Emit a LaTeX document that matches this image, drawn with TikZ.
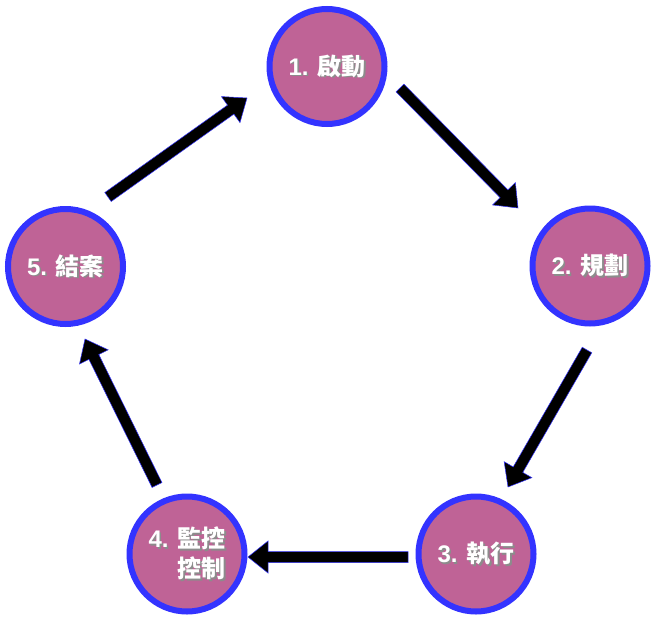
\documentclass[tikz,border=0pt]{standalone}
\usepackage{fontspec}
\setmainfont{Liberation Sans}
\newfontfamily\cjk{Noto Sans CJK TC}
\usetikzlibrary{calc}
\definecolor{nodefill}{RGB}{191,99,150}
\definecolor{nodeborder}{RGB}{51,51,255}
\tikzset{
  phase/.style={circle, minimum size=115pt, line width=6pt, draw=nodeborder, fill=nodefill, inner sep=0pt,
    font=\fontsize{24}{30}\selectfont\bfseries},
  fatarrow/.style={fill=black, draw=nodeborder, line width=0.5pt, line join=miter}
}
\newcommand\shtext[1]{%
  \raisebox{-3.5pt}[\height][\depth]{%
  \rlap{\kern1.6pt\raisebox{-1.6pt}{\color{black!45}\begin{tabular}{@{}r@{}}#1\end{tabular}}}%
  {\color{white}\begin{tabular}{@{}r@{}}#1\end{tabular}}}}
\newcommand\bigarrow[2]{%
  \coordinate (hb) at ($(#2)!20pt!(#1)$);
  \filldraw[fatarrow] ($(#1)!5.5pt!90:(#2)$) -- ($(hb)!5.5pt!-90:(#1)$) -- ($(hb)!16pt!-90:(#1)$) -- (#2)
    -- ($(hb)!16pt!90:(#1)$) -- ($(hb)!5.5pt!90:(#1)$) -- ($(#1)!5.5pt!-90:(#2)$) -- cycle;
}
\begin{document}
\begin{tikzpicture}[x=1pt,y=-1pt]
\useasboundingbox (0,0) rectangle (656,621);
\node[phase] (n1) at (327,66.5) {\shtext{1. {\cjk 啟動}}};
\node[phase] (n2) at (590,266) {\shtext{2. {\cjk 規劃}}};
\node[phase] (n3) at (476,554) {\shtext{3. {\cjk 執行}}};
\node[phase] (n4) at (187,554) {\shtext{4. {\cjk 監控}\\[0pt]{\cjk 控制}}};
\node[phase] (n5) at (65.5,266.5) {\shtext{5. {\cjk 結案}}};
% arrow end points
\coordinate (a12s) at (400,88);
\coordinate (a12e) at (518,208);
\coordinate (a23s) at (587,350);
\coordinate (a23e) at (508,487);
\coordinate (a34s) at (408,557);
\coordinate (a34e) at (248,557);
\coordinate (a45s) at (157,485);
\coordinate (a45e) at (85,339);
\coordinate (a51s) at (108,197);
\coordinate (a51e) at (247,98);
\bigarrow{a12s}{a12e}
\bigarrow{a23s}{a23e}
\bigarrow{a34s}{a34e}
\bigarrow{a45s}{a45e}
\bigarrow{a51s}{a51e}
\end{tikzpicture}
\end{document}
